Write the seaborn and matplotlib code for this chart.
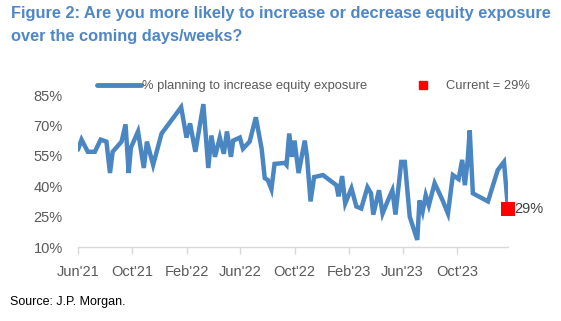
import matplotlib
matplotlib.use("Agg")
import matplotlib.pyplot as plt
from matplotlib.lines import Line2D
import pandas as pd
import seaborn as sns

# Weekly survey: share of respondents planning to increase equity exposure (%)
dates = [
    "2021-06-01", "2021-06-09", "2021-06-23", "2021-07-09", "2021-07-22", "2021-08-04",
    "2021-08-12", "2021-08-18", "2021-09-07", "2021-09-16", "2021-09-23", "2021-09-28",
    "2021-10-14", "2021-10-27", "2021-11-03", "2021-11-17", "2021-12-06", "2022-01-09",
    "2022-01-19", "2022-01-31", "2022-02-08", "2022-02-20", "2022-03-10", "2022-03-21",
    "2022-03-28", "2022-04-05", "2022-04-16", "2022-04-25", "2022-05-02", "2022-05-11",
    "2022-05-16", "2022-05-31", "2022-06-07", "2022-06-22", "2022-07-06", "2022-07-19",
    "2022-07-26", "2022-08-02", "2022-08-10", "2022-08-17", "2022-09-09", "2022-09-13",
    "2022-09-19", "2022-09-25", "2022-10-01", "2022-10-10", "2022-10-24", "2022-10-29",
    "2022-11-06", "2022-11-14", "2022-12-04", "2023-01-03", "2023-01-08", "2023-01-16",
    "2023-01-23", "2023-02-06", "2023-02-17", "2023-02-28", "2023-03-14", "2023-03-22",
    "2023-03-27", "2023-04-09", "2023-04-17", "2023-04-29", "2023-05-09", "2023-05-16",
    "2023-05-29", "2023-06-06", "2023-06-17", "2023-07-04", "2023-07-09", "2023-07-16",
    "2023-07-23", "2023-07-30", "2023-08-12", "2023-08-30", "2023-09-11", "2023-09-22",
    "2023-10-05", "2023-10-13", "2023-10-19", "2023-10-25", "2023-10-30", "2023-11-06",
    "2023-12-10", "2024-01-01", "2024-01-15", "2024-01-24",
]
pct_increase = [
    58, 63, 57, 57, 63, 62,
    46.5, 57, 62, 70.5, 46.5, 59,
    67, 49, 62, 50.5, 66, 76,
    79, 64, 71, 57, 80.5, 49,
    65, 54.5, 64, 56, 67, 54.5,
    62.5, 64, 58.5, 62, 74, 58.5,
    44, 43, 38.5, 51, 51.5, 50.5,
    66, 54.5, 62.5, 46.5, 62.5, 54.5,
    32.5, 44.5, 45.5, 40.5, 35, 45,
    31.5, 39, 30, 29, 39.5, 36.5,
    26, 38, 26.5, 33, 38, 26,
    52, 52, 25, 13.5, 33, 27.5,
    35.5, 30.5, 41.5, 33, 26.5, 45.5,
    43.5, 53, 40.5, 52, 67.5, 36.5,
    32.5, 48, 52, 29,
]

y_ticks = [10, 25, 40, 55, 70, 85]
y_tick_labels = [f"{v}%" for v in y_ticks]
x_tick_dates = ["2021-06-01", "2021-10-01", "2022-02-01", "2022-06-01",
                "2022-10-01", "2023-02-01", "2023-06-01", "2023-10-01"]
x_tick_labels = ["Jun'21", "Oct'21", "Feb'22", "Jun'22",
                 "Oct'22", "Feb'23", "Jun'23", "Oct'23"]

series_label = "% planning to increase equity exposure"
current_label = f"Current = {pct_increase[-1]:g}%"

line_color = "#4A86C1"
title_color = "#4F86C6"
text_color = "#595959"

df = pd.DataFrame({"date": pd.to_datetime(dates), "pct": pct_increase})
current = df.iloc[[-1]]

sns.set_theme(style="white")
plt.rcParams["font.family"] = ["Liberation Sans", "DejaVu Sans"]

fig = plt.figure(figsize=(5.61, 3.21), dpi=100)
ax = fig.add_axes([0.139, 0.2305, 0.7665, 0.4735])

sns.lineplot(data=df, x="date", y="pct", ax=ax, color=line_color,
             linewidth=3.2, solid_joinstyle="miter", legend=False)
sns.scatterplot(data=current, x="date", y="pct", ax=ax, marker="s",
                color="#FF0000", s=90, linewidth=0, zorder=5, legend=False,
                clip_on=False)
ax.annotate(f"{pct_increase[-1]:g}%", xy=(current["date"].iloc[0], current["pct"].iloc[0]),
            xytext=(4.5, 0), textcoords="offset points", ha="left", va="center",
            fontsize=10.5, color="#404040", annotation_clip=False)

ax.set_xlim(df["date"].iloc[0], df["date"].iloc[-1])
ax.set_ylim(y_ticks[0], y_ticks[-1])
ax.set_yticks(y_ticks)
ax.set_yticklabels(y_tick_labels)
ax.set_xticks(pd.to_datetime(x_tick_dates))
ax.set_xticklabels(x_tick_labels)
ax.set_xlabel("")
ax.set_ylabel("")

for side in ["left", "top", "right"]:
    ax.spines[side].set_visible(False)
ax.spines["bottom"].set_color("#D9D9D9")
ax.spines["bottom"].set_linewidth(1.0)
ax.tick_params(axis="x", direction="out", length=5, width=1, color="#D9D9D9",
               pad=8, labelsize=10.5, labelcolor=text_color, bottom=True)
ax.tick_params(axis="y", length=0, pad=11, labelsize=10.5, labelcolor=text_color)
ax.grid(False)

handles = [
    Line2D([], [], color=line_color, linewidth=3.5),
    Line2D([], [], color="#FF0000", marker="s", linestyle="", markersize=5.5),
]
ax.legend(handles, [series_label, current_label], ncol=2, frameon=False,
          loc="center left", bbox_to_anchor=(97 / 561, 1 - 86 / 321),
          bbox_transform=fig.transFigure, borderpad=0, borderaxespad=0,
          handlelength=3.4, handletextpad=0.08, columnspacing=2.6,
          fontsize=9.3, labelcolor=text_color)

fig.text(11 / 561, 1 - 6 / 321,
         "Figure 2: Are you more likely to increase or decrease equity exposure\n"
         "over the coming days/weeks?",
         ha="left", va="top", fontsize=11.75, fontweight="bold", color=title_color,
         linespacing=1.7)
fig.text(10 / 561, 1 - 302 / 321, "Source: J.P. Morgan.", ha="left", va="center",
         fontsize=9, color="#000000")

fig.savefig("out.png", dpi=100)
